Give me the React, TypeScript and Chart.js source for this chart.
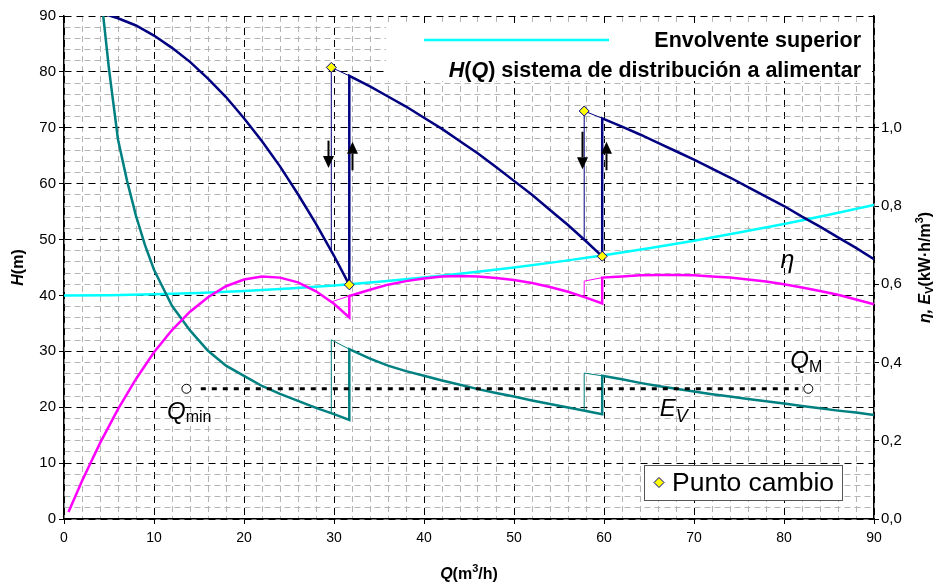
import React, { useEffect, useRef } from 'react';
import { Chart, registerables } from 'chart.js';

Chart.register(...registerables);

const FONT = "'Liberation Sans', Arial, Helvetica, sans-serif";

// ---------------- DATA ----------------
// Envolvente superior H(Q) (m)
const envQ = [0, 5, 10, 15, 20, 25, 30, 35, 40, 45, 50, 55, 60, 65, 70, 75, 80, 85, 90];
const envH = [40.0, 40.05, 40.2, 40.45, 40.8, 41.25, 41.8, 42.45, 43.2, 44.05, 45.0, 46.05, 47.2, 48.45, 49.8, 51.25, 52.8, 54.45, 56.2];

// Q grids of the three pump configurations
const q1 = [3.5, 4, 6, 8, 10, 12, 14, 16, 18, 20, 22, 24, 26, 28, 30, 31.7];
const q2 = [31.7, 34, 36, 38, 40, 42, 44, 46, 48, 50, 52, 54, 56, 58, 59.8];
const q3 = [59.8, 62, 64, 66, 68, 70, 72, 74, 76, 78, 80, 82, 84, 86, 88, 90];

// H (m) of pumping
const h1 = [90.8, 90.6, 89.6, 88.3, 86.5, 84.3, 81.8, 78.8, 75.5, 71.7, 67.6, 63.1, 58.1, 52.8, 47.1, 41.9];
const h2 = [79.3, 77.4, 75.6, 73.8, 71.8, 69.8, 67.6, 65.4, 63.0, 60.5, 58.0, 55.3, 52.6, 49.7, 47.0];
const h3 = [71.7, 70.2, 68.8, 67.3, 65.8, 64.3, 62.7, 61.1, 59.4, 57.7, 56.0, 54.1, 52.3, 50.4, 48.5, 46.5];
const hThinAQ = [29.7, 29.7, 31.7];
const hThinAV = [48.0, 80.8, 79.3];
const hThinBQ = [57.8, 57.8, 59.8];
const hThinBV = [50.0, 73.0, 71.7];

// Efficiency eta (right axis)
const etaQ1 = [0.5, 2, 4, 6, 8, 10, 12, 14, 16, 18, 20, 22, 24, 26, 28, 30, 31.7];
const eta1 = [0.018, 0.097, 0.194, 0.281, 0.358, 0.426, 0.483, 0.530, 0.567, 0.595, 0.612, 0.620, 0.617, 0.605, 0.582, 0.550, 0.515];
const eta2 = [0.570, 0.586, 0.599, 0.608, 0.615, 0.620, 0.621, 0.620, 0.616, 0.611, 0.603, 0.593, 0.581, 0.566, 0.551];
const eta3 = [0.617, 0.620, 0.623, 0.624, 0.624, 0.623, 0.620, 0.617, 0.612, 0.607, 0.600, 0.592, 0.583, 0.573, 0.561, 0.549];
const etaThinAQ = [29.7, 31.7];
const etaThinAV = [0.555, 0.570];
const etaThinBQ = [57.8, 57.8, 59.8];
const etaThinBV = [0.567, 0.608, 0.617];

// Specific energy Ev (kW·h/m3, right axis)
const evQ1 = [4.2, 5, 6, 7, 8, 9, 10, 12, 14, 16, 18, 20, 22, 24, 26, 28, 30, 31.7];
const ev1 = [1.32, 1.15, 0.97, 0.865, 0.775, 0.70, 0.637, 0.545, 0.482, 0.430, 0.392, 0.366, 0.340, 0.320, 0.302, 0.284, 0.268, 0.253];
const ev2 = [0.434, 0.410, 0.392, 0.378, 0.366, 0.354, 0.343, 0.332, 0.322, 0.313, 0.303, 0.294, 0.285, 0.276, 0.268];
const ev3 = [0.366, 0.357, 0.348, 0.340, 0.333, 0.326, 0.319, 0.313, 0.307, 0.301, 0.295, 0.289, 0.283, 0.277, 0.272, 0.266];
const evThinAQ = [29.7, 29.7, 31.7];
const evThinAV = [0.271, 0.458, 0.434];
const evThinBQ = [57.8, 57.8, 59.8];
const evThinBV = [0.277, 0.373, 0.366];

// Punto cambio
const cambioQ = [29.7, 31.7, 57.8, 59.8];
const cambioH = [80.8, 41.9, 73.0, 47.0];

// Qmin – QM range
const limQ = [13.6, 82.7];
const limH = [23.3, 23.3];
const dotQ = [15.2, 81.6];
const dotH = [23.3, 23.3];

// Arrows (Q, H from, H to)
const arrowQ = [29.35, 32.0, 57.5, 60.2];
const arrowFrom = [67.7, 62.4, 69.3, 62.4];
const arrowTo = [62.8, 67.5, 62.6, 67.5];

// Axis ticks
const rightTickLabels = ['0,0', '0,2', '0,4', '0,6', '0,8', '1,0'];

// ---------------- HELPERS ----------------
const pts = (qs: number[], vs: number[]) => qs.map((q, i) => ({ x: q, y: vs[i] }));
const isMajor = (v: number) => Math.abs(v / 10 - Math.round(v / 10)) < 1e-6;

type Run = { t: string; f: string; dy?: number };
function runsWidth(ctx: CanvasRenderingContext2D, runs: Run[]) {
  let w = 0;
  for (const r of runs) {
    ctx.font = r.f;
    w += ctx.measureText(r.t).width;
  }
  return w;
}
function drawRuns(ctx: CanvasRenderingContext2D, runs: Run[], x: number, y: number, align: 'left' | 'center' | 'right') {
  const w = runsWidth(ctx, runs);
  let cx = align === 'center' ? x - w / 2 : align === 'right' ? x - w : x;
  ctx.textAlign = 'left';
  ctx.textBaseline = 'alphabetic';
  for (const r of runs) {
    ctx.font = r.f;
    ctx.fillText(r.t, cx, y + (r.dy || 0));
    cx += ctx.measureText(r.t).width;
  }
}

const B = (s: number) => `bold ${s}px ${FONT}`;
const BI = (s: number) => `bold italic ${s}px ${FONT}`;
const I = (s: number) => `italic ${s}px ${FONT}`;
const N = (s: number) => `${s}px ${FONT}`;

const overlay = {
  id: 'overlay',
  afterDatasetsDraw(chart: any) {
    const { ctx, chartArea: ca, scales } = chart;
    const xs = scales.x;
    const ys = scales.y;
    const X = (v: number) => xs.getPixelForValue(v);
    const Y = (v: number) => ys.getPixelForValue(v);
    ctx.save();

    // arrows
    ctx.fillStyle = '#000';
    ctx.strokeStyle = '#000';
    for (let i = 0; i < arrowQ.length; i++) {
      const px = Math.round(X(arrowQ[i])) + 0.5;
      const y1 = Y(arrowFrom[i]);
      const y2 = Y(arrowTo[i]);
      const dir = Math.sign(y2 - y1);
      const headLen = 12;
      const headW = 5.5;
      ctx.lineWidth = 2;
      ctx.beginPath();
      ctx.moveTo(px, y1);
      ctx.lineTo(px, y2 - dir * headLen);
      ctx.stroke();
      ctx.beginPath();
      ctx.moveTo(px, y2);
      ctx.lineTo(px - headW, y2 - dir * headLen);
      ctx.lineTo(px + headW, y2 - dir * headLen);
      ctx.closePath();
      ctx.fill();
    }

    // curve labels
    ctx.fillStyle = '#000';
    drawRuns(ctx, [{ t: 'Q', f: I(24) }, { t: 'min', f: N(16), dy: 3 }], X(11.45), Y(17.9), 'left');
    drawRuns(ctx, [{ t: 'Q', f: I(24) }, { t: 'M', f: N(16), dy: 4 }], X(80.7), Y(27.0), 'left');
    drawRuns(ctx, [{ t: 'E', f: I(24) }, { t: 'V', f: I(18), dy: 6 }], X(66.2), Y(18.5), 'left');
    drawRuns(ctx, [{ t: 'η', f: I(25) }], X(79.6), Y(45.0), 'left');

    // top legend
    ctx.fillStyle = '#fff';
    ctx.fillRect(ca.left + 322, ca.top + 8, ca.right - 2 - (ca.left + 322), 57);
    ctx.strokeStyle = '#00FFFF';
    ctx.lineWidth = 2.5;
    ctx.beginPath();
    ctx.moveTo(ca.left + 360, ca.top + 24);
    ctx.lineTo(ca.left + 545, ca.top + 24);
    ctx.stroke();
    ctx.fillStyle = '#000';
    drawRuns(ctx, [{ t: 'Envolvente superior', f: B(21.5) }], ca.right - 13, ca.top + 31, 'right');
    drawRuns(
      ctx,
      [
        { t: 'H', f: BI(21.5) },
        { t: '(', f: B(21.5) },
        { t: 'Q', f: BI(21.5) },
        { t: ') sistema de distribución a alimentar', f: B(21.5) },
      ],
      ca.right - 13,
      ca.top + 61,
      'right'
    );

    // Punto cambio legend
    const bx = ca.right - 230;
    const by = ca.bottom - 54;
    ctx.fillStyle = '#fff';
    ctx.fillRect(bx, by, 198, 35);
    ctx.strokeStyle = '#555';
    ctx.lineWidth = 1;
    ctx.strokeRect(bx + 0.5, by + 0.5, 198, 35);
    const dx = bx + 15;
    const dy = by + 17.5;
    ctx.beginPath();
    ctx.moveTo(dx, dy - 5);
    ctx.lineTo(dx + 5, dy);
    ctx.lineTo(dx, dy + 5);
    ctx.lineTo(dx - 5, dy);
    ctx.closePath();
    ctx.fillStyle = '#FFFF00';
    ctx.fill();
    ctx.strokeStyle = '#000080';
    ctx.stroke();
    ctx.fillStyle = '#000';
    drawRuns(ctx, [{ t: 'Punto cambio', f: N(26.5) }], bx + 28, by + 26, 'left');

    ctx.restore();
  },
  afterDraw(chart: any) {
    const { ctx, chartArea: ca, width } = chart;
    ctx.save();
    ctx.fillStyle = '#000';
    const midY = (ca.top + ca.bottom) / 2;
    // left title
    ctx.save();
    ctx.translate(23, midY);
    ctx.rotate(-Math.PI / 2);
    drawRuns(ctx, [{ t: 'H', f: BI(16) }, { t: '(m)', f: B(16) }], 0, 0, 'center');
    ctx.restore();
    // right title
    ctx.save();
    ctx.translate(width - 6, midY);
    ctx.rotate(-Math.PI / 2);
    drawRuns(
      ctx,
      [
        { t: 'η, ', f: BI(16) },
        { t: 'E', f: BI(16) },
        { t: 'V', f: B(11), dy: 3 },
        { t: '(kW·h/m', f: B(16) },
        { t: '3', f: B(11), dy: -7 },
        { t: ')', f: B(16) },
      ],
      0,
      0,
      'center'
    );
    ctx.restore();
    // bottom title
    drawRuns(
      ctx,
      [
        { t: 'Q', f: BI(16) },
        { t: '(m', f: B(16) },
        { t: '3', f: B(11), dy: -7 },
        { t: '/h)', f: B(16) },
      ],
      (ca.left + ca.right) / 2,
      ca.bottom + 60,
      'center'
    );
    ctx.restore();
  },
};

const gridColor = (c: any) => (c.tick && isMajor(c.tick.value) ? '#000000' : '#b4b4b4');
const gridDash = (c: any) => (c.tick && isMajor(c.tick.value) ? [7, 5] : [6, 4]);
const tickColor = (c: any) => (c.tick && isMajor(c.tick.value) ? '#000000' : 'rgba(0,0,0,0)');

export default function App() {
  const ref = useRef<HTMLCanvasElement>(null);
  useEffect(() => {
    const NAVY = '#000080';
    const TEAL = '#008080';
    const MAG = '#FF00FF';
    const CYAN = '#00FFFF';
    const line = (data: any[], color: string, width: number, axis = 'y', extra: any = {}) => ({
      data,
      borderColor: color,
      backgroundColor: color,
      borderWidth: width,
      pointRadius: 0,
      tension: 0,
      fill: false,
      yAxisID: axis,
      ...extra,
    });
    const chart = new Chart(ref.current as HTMLCanvasElement, {
      type: 'line',
      data: {
        datasets: [
          {
            label: 'Punto cambio',
            data: pts(cambioQ, cambioH),
            showLine: false,
            pointStyle: 'rectRot',
            pointRadius: 5,
            pointBackgroundColor: '#FFFF00',
            pointBorderColor: NAVY,
            pointBorderWidth: 1,
            yAxisID: 'y',
          } as any,
          {
            label: 'Qlim',
            data: pts(limQ, limH),
            showLine: false,
            pointStyle: 'circle',
            pointRadius: 4.5,
            pointBackgroundColor: '#ffffff',
            pointBorderColor: '#000',
            pointBorderWidth: 1,
            yAxisID: 'y',
          } as any,
          line(pts(dotQ, dotH), '#000', 3, 'y', { borderDash: [5, 6] }),
          line([...pts(q1, h1), ...pts(q2, h2), ...pts(q3, h3)], NAVY, 2.5),
          line(pts(hThinAQ, hThinAV), NAVY, 1),
          line(pts(hThinBQ, hThinBV), NAVY, 1),
          line([...pts(etaQ1, eta1), ...pts(q2, eta2), ...pts(q3, eta3)], MAG, 2.5, 'y2'),
          line(pts(etaThinAQ, etaThinAV), MAG, 1, 'y2'),
          line(pts(etaThinBQ, etaThinBV), MAG, 1, 'y2'),
          line([...pts(evQ1, ev1), ...pts(q2, ev2), ...pts(q3, ev3)], TEAL, 2.5, 'y2'),
          line(pts(evThinAQ, evThinAV), TEAL, 1, 'y2'),
          line(pts(evThinBQ, evThinBV), TEAL, 1, 'y2'),
          line(pts(envQ, envH), CYAN, 2.5),
        ],
      },
      options: {
        responsive: false,
        animation: false,
        devicePixelRatio: 1,
        layout: { padding: { top: 16, left: 0, right: 0, bottom: 0 } },
        plugins: { legend: { display: false }, tooltip: { enabled: false } },
        elements: { point: { radius: 0 }, line: { borderCapStyle: 'butt' } },
        scales: {
          x: {
            type: 'linear',
            position: 'bottom',
            min: 0,
            max: 90,
            ticks: {
              stepSize: 2,
              autoSkip: false,
              maxRotation: 0,
              padding: 6,
              color: '#000',
              font: { family: FONT, size: 14 },
              callback: (v: any) => (isMajor(Number(v)) ? String(Math.round(Number(v))) : ''),
            },
            grid: { color: gridColor, lineWidth: 1, tickLength: 5, tickColor: tickColor, tickWidth: 1 },
            border: { display: true, color: '#000', width: 1.5, dash: gridDash },
            afterFit: (s: any) => {
              s.height = 67;
            },
          } as any,
          y: {
            type: 'linear',
            position: 'left',
            min: 0,
            max: 90,
            ticks: {
              stepSize: 2,
              autoSkip: false,
              padding: 3,
              color: '#000',
              font: { family: FONT, size: 15 },
              callback: (v: any) => (isMajor(Number(v)) ? String(Math.round(Number(v))) : ''),
            },
            grid: { color: gridColor, lineWidth: 1, tickLength: 5, tickColor: tickColor, tickWidth: 1 },
            border: { display: true, color: '#000', width: 1.5, dash: gridDash },
            afterFit: (s: any) => {
              s.width = 64;
            },
          } as any,
          y2: {
            type: 'linear',
            position: 'right',
            min: 0,
            max: 90 / 70,
            afterBuildTicks: (s: any) => {
              s.ticks = rightTickLabels.map((_, i) => ({ value: i * 0.2 }));
            },
            ticks: {
              padding: 2,
              color: '#000',
              font: { family: FONT, size: 15 },
              callback: (_v: any, i: number) => rightTickLabels[i],
            },
            grid: { drawOnChartArea: false, tickLength: 5, color: '#000' },
            border: { display: true, color: '#000', width: 1.5 },
            afterFit: (s: any) => {
              s.width = 62;
            },
          } as any,
        },
      },
      plugins: [overlay],
    } as any);
    return () => chart.destroy();
  }, []);
  return (
    <div style={{ position: 'fixed', left: 0, top: 0, width: 936, height: 586, background: '#fff' }}>
      <canvas ref={ref} width={936} height={586} style={{ display: 'block', width: 936, height: 586 }} />
    </div>
  );
}
